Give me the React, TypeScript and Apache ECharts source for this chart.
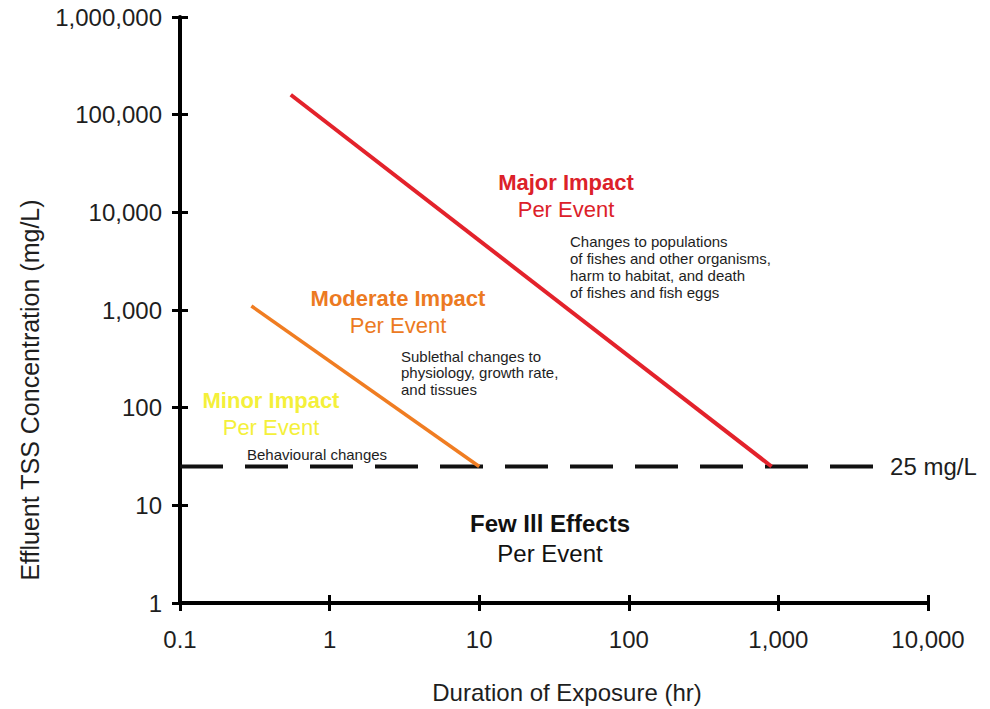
import React, { useEffect, useRef } from 'react';
import * as echarts from 'echarts';

// ---- data ----
const xTickLabels = ['0.1', '1', '10', '100', '1,000', '10,000'];
const yTickLabels = ['1', '10', '100', '1,000', '10,000', '100,000', '1,000,000'];
const majorImpact: [number, number][] = [[0.55, 160000], [900, 25]];
const moderateImpact: [number, number][] = [[0.3, 1100], [10, 25]];
const threshold: [number, number][] = [[0.1, 25], [4500, 25]];
const thresholdLabel = '25 mg/L';

const FONT = '"Liberation Sans", Arial, Helvetica, sans-serif';
const TXT = '#1e1e1e';

function label(x: number, y: number, text: string, size: number, color: string, weight: string = 'normal', align: string = 'center', vAlign: string = 'middle', lineHeight?: number) {
  return {
    type: 'text',
    x,
    y,
    silent: true,
    style: {
      text,
      fill: color,
      fontSize: size,
      fontWeight: weight,
      fontFamily: FONT,
      align,
      verticalAlign: vAlign,
      textAlign: align,
      textVerticalAlign: vAlign,
      lineHeight: lineHeight ?? Math.round(size * 1.15),
    },
  };
}

const fmtX = (v: number) => xTickLabels[Math.round(Math.log10(v)) + 1] ?? '';
const fmtY = (v: number) => yTickLabels[Math.round(Math.log10(v))] ?? '';

export default function App() {
  const ref = useRef<HTMLDivElement>(null);

  useEffect(() => {
    if (!ref.current) return;
    const chart = echarts.init(ref.current, undefined, { renderer: 'svg' });

    const axisLine = { show: true, lineStyle: { color: '#000', width: 4 } };
    const tickStyle = { color: '#000', width: 3 };

    const option: any = {
      animation: false,
      backgroundColor: '#ffffff',
      textStyle: { fontFamily: FONT },
      grid: { left: 180, right: 62, top: 17, bottom: 106, containLabel: false },
      xAxis: [
        {
          type: 'log',
          logBase: 10,
          min: 0.1,
          max: 10000,
          position: 'bottom',
          axisLine,
          axisTick: { show: false },
          axisLabel: { show: true, formatter: fmtX, fontSize: 24, color: TXT, margin: 24, fontFamily: FONT },
          splitLine: { show: false },
          minorTick: { show: false },
          name: 'Duration of Exposure (hr)',
          nameLocation: 'middle',
          nameGap: 77,
          nameTextStyle: { fontSize: 24, color: TXT, fontFamily: FONT, padding: [0, 0, 0, 26] },
        },
        {
          type: 'log',
          logBase: 10,
          min: 0.1,
          max: 10000,
          position: 'bottom',
          offset: -8,
          axisLine: { show: false },
          axisTick: { show: true, inside: false, length: 16, lineStyle: tickStyle },
          axisLabel: { show: false },
          splitLine: { show: false },
        },
      ],
      yAxis: [
        {
          type: 'log',
          logBase: 10,
          min: 1,
          max: 1000000,
          splitNumber: 6,
          position: 'left',
          axisLine,
          axisTick: { show: false },
          axisLabel: { show: true, formatter: fmtY, fontSize: 24, color: TXT, margin: 18, fontFamily: FONT },
          splitLine: { show: false },
        },
        {
          type: 'log',
          logBase: 10,
          min: 1,
          max: 1000000,
          splitNumber: 6,
          position: 'left',
          offset: -8,
          axisLine: { show: false },
          axisTick: { show: true, inside: false, length: 16, lineStyle: tickStyle },
          axisLabel: { show: false },
          splitLine: { show: false },
        },
      ],
      series: [
        {
          name: '25 mg/L threshold',
          type: 'line',
          xAxisIndex: 0,
          yAxisIndex: 0,
          data: threshold,
          symbol: 'none',
          silent: true,
          lineStyle: { color: '#111', width: 4, type: [43, 22], cap: 'butt' },
          endLabel: {
            show: true,
            formatter: thresholdLabel,
            fontSize: 24,
            color: TXT,
            fontFamily: FONT,
            distance: 14,
          },
          z: 2,
        },
        {
          name: 'Moderate Impact',
          type: 'line',
          xAxisIndex: 0,
          yAxisIndex: 0,
          data: moderateImpact,
          symbol: 'none',
          silent: true,
          lineStyle: { color: '#f07d22', width: 3.5 },
          z: 3,
        },
        {
          name: 'Major Impact',
          type: 'line',
          xAxisIndex: 0,
          yAxisIndex: 0,
          data: majorImpact,
          symbol: 'none',
          silent: true,
          lineStyle: { color: '#e3222b', width: 4 },
          z: 3,
        },
      ],
      graphic: [
        {
          ...label(30, 390, 'Effluent TSS Concentration (mg/L)', 25, TXT),
          rotation: Math.PI / 2,
        },
        label(566, 182, 'Major Impact', 22, '#dc2129', 'bold'),
        label(566, 209, 'Per Event', 22, '#dc2129'),
        label(570, 233, 'Changes to populations\nof fishes and other organisms,\nharm to habitat, and death\nof fishes and fish eggs', 15, TXT, 'normal', 'left', 'top', 17),
        label(398, 298, 'Moderate Impact', 22, '#ec7a22', 'bold'),
        label(398, 325, 'Per Event', 22, '#ec7a22'),
        label(401, 348, 'Sublethal changes to\nphysiology, growth rate,\nand tissues', 15, TXT, 'normal', 'left', 'top', 16.5),
        label(271, 400, 'Minor Impact', 22, '#f4f03a', 'bold'),
        label(271, 427, 'Per Event', 22, '#f4f03a'),
        label(247, 454, 'Behavioural changes', 15, TXT, 'normal', 'left', 'middle'),
        label(550, 523, 'Few Ill Effects', 24, '#111', 'bold'),
        label(550, 553, 'Per Event', 24, '#111'),
      ],
    };

    chart.setOption(option);
    return () => {
      chart.dispose();
    };
  }, []);

  return (
    <div
      ref={ref}
      style={{ position: 'fixed', left: 0, top: 0, width: 990, height: 709, background: '#fff' }}
    />
  );
}
